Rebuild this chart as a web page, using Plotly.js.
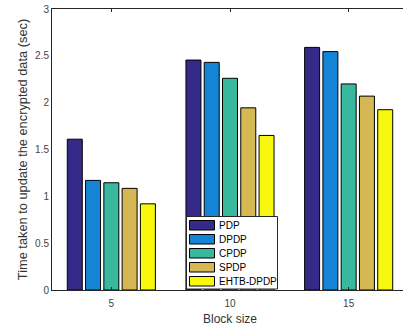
<!DOCTYPE html>
<html>
<head>
<meta charset="utf-8">
<script src="https://cdn.plot.ly/plotly-3.0.1.min.js"></script>
<style>
  html, body { margin: 0; padding: 0; overflow: hidden; background: #fff; }
  #chart { width: 410px; height: 329px; }
</style>
</head>
<body>
<div id="chart"></div>
<script>
// ---- data ----
const blockSizes = [5, 10, 15];
const seriesNames = ['PDP', 'DPDP', 'CPDP', 'SPDP', 'EHTB-DPDP'];
const pdp      = [1.61, 2.455, 2.59];
const dpdp     = [1.17, 2.43, 2.545];
const cpdp     = [1.145, 2.26, 2.20];
const spdp     = [1.085, 1.945, 2.07];
const ehtbDpdp = [0.92, 1.65, 1.925];
const yTickVals = [0, 0.5, 1, 1.5, 2, 2.5, 3];
const yTickText = ['0', '0.5', '1', '1.5', '2', '2.5', '3'];
const xTickText = ['5', '10', '15'];

// ---- styling ----
const seriesValues = [pdp, dpdp, cpdp, spdp, ehtbDpdp];
const colors = ['#352a87', '#1485d6', '#38b99e', '#d5b853', '#f8f80f'];
const W = 410, H = 329;
const M = {l: 52, r: 2, t: 9, b: 39};
const pw = W - M.l - M.r, ph = H - M.t - M.b;
const px2x = p => (p - M.l) / pw;
const px2y = p => (H - M.b - p) / ph;

const traces = seriesNames.map((name, i) => ({
  type: 'bar',
  name: name,
  x: blockSizes,
  y: seriesValues[i],
  marker: {color: colors[i], line: {color: '#000', width: 1}},
  showlegend: false,
  hoverinfo: 'x+y+name'
}));

// custom legend (MATLAB style) built from series names/colors
const shapes = [];
const annotations = [];
const lg = {x0: 186.5, x1: 277.5, y0: 216.5, y1: 289, sx0: 189.5, sx1: 214.5, sy0: 220.5, sh: 9.5, step: 14, tx: 217};
shapes.push({type: 'rect', xref: 'paper', yref: 'paper',
  x0: px2x(lg.x0), x1: px2x(lg.x1), y0: px2y(lg.y1), y1: px2y(lg.y0),
  fillcolor: '#fff', line: {color: '#262626', width: 1}, layer: 'above'});
seriesNames.forEach((name, i) => {
  const top = lg.sy0 + i * lg.step;
  shapes.push({type: 'rect', xref: 'paper', yref: 'paper',
    x0: px2x(lg.sx0), x1: px2x(lg.sx1), y0: px2y(top + lg.sh), y1: px2y(top),
    fillcolor: colors[i], line: {color: '#000', width: 1}, layer: 'above'});
  annotations.push({xref: 'paper', yref: 'paper', x: px2x(lg.tx), y: px2y(top + lg.sh / 2),
    xanchor: 'left', yanchor: 'middle', showarrow: false, text: name,
    font: {family: 'Liberation Sans, Arial, sans-serif', size: 10, color: '#000'}});
});

const layout = {
  width: W, height: H,
  margin: M,
  paper_bgcolor: '#fff', plot_bgcolor: '#fff',
  barmode: 'group', bargap: 0.23, bargroupgap: 0.18,
  font: {family: 'Liberation Sans, Arial, sans-serif', size: 10, color: '#333'},
  xaxis: {
    range: [2.5, 17.5], tickvals: blockSizes, ticktext: xTickText,
    ticks: 'inside', ticklen: 3, tickcolor: '#262626', tickwidth: 1,
    showline: true, linecolor: '#262626', linewidth: 1, mirror: 'ticks',
    showgrid: false, zeroline: false,
    ticklabelstandoff: 4,
    tickfont: {size: 10, color: '#444'},
    title: {text: 'Block size', font: {size: 12, color: '#333'}, standoff: 6}
  },
  yaxis: {
    range: [0, 3], tickvals: yTickVals, ticktext: yTickText,
    ticks: '', showline: true, linecolor: '#262626', linewidth: 1, mirror: true,
    showgrid: false, zeroline: false,
    tickfont: {size: 10, color: '#444'},
    title: {text: 'Time taken to update the encrypted data (sec)', font: {size: 12.8, color: '#333'}, standoff: 4}
  },
  shapes: shapes,
  annotations: annotations
};

Plotly.newPlot('chart', traces, layout, {displayModeBar: false, staticPlot: true});
</script>
</body>
</html>
